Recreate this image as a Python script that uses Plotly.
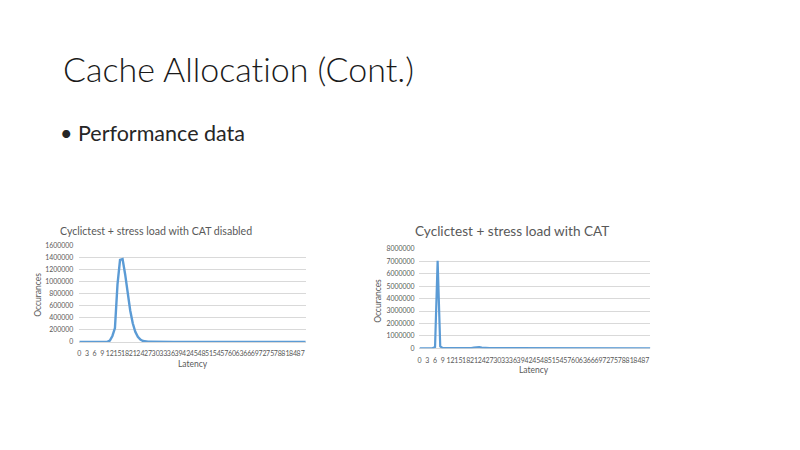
import plotly.graph_objects as go

# latency buckets (0..89) shown on both charts
latency = list(range(90))
tick_vals = [0, 3, 6, 9, 12, 15, 18, 21, 24, 27, 30, 33, 36, 39, 42, 45,
             48, 51, 54, 57, 60, 63, 66, 69, 72, 75, 78, 81, 84, 87]
tick_text = [str(v) for v in tick_vals]

# occurrences, CAT disabled
occ_disabled = [
    0, 0, 0, 0, 0, 0, 0, 0, 0, 0,
    1000, 4000, 25000, 100000, 230000, 950000, 1355000, 1370000, 1120000, 800000,
    520000, 310000, 170000, 85000, 40000, 18000, 8000, 5000, 4000, 5000,
    7000, 9000, 10000, 10000, 9000, 7000, 5000, 3000, 2000, 1500,
    1000, 1000, 800, 800, 600, 600, 500, 500, 400, 400,
    300, 300, 300, 200, 200, 200, 200, 100, 100, 100,
    100, 100, 100, 0, 0, 0, 0, 0, 0, 0,
    0, 0, 0, 0, 0, 0, 0, 0, 0, 0,
    0, 0, 0, 0, 0, 0, 0, 0, 0, 0,
]

# occurrences, CAT enabled
occ_cat = [
    0, 0, 0, 0, 0, 0, 100000, 7050000, 150000, 5000,
    3000, 2000, 2000, 2000, 2000, 2000, 3000, 4000, 5000, 8000,
    20000, 60000, 110000, 100000, 50000, 20000, 10000, 5000, 3000, 2000,
    1000, 1000, 1000, 1000, 1000, 1000, 500, 500, 500, 500,
    0, 0, 0, 0, 0, 0, 0, 0, 0, 0,
    0, 0, 0, 0, 0, 0, 0, 0, 0, 0,
    0, 0, 0, 0, 0, 0, 0, 0, 0, 0,
    0, 0, 0, 0, 0, 0, 0, 0, 0, 0,
    0, 0, 0, 0, 0, 0, 0, 0, 0, 0,
]

FONT = "Lato"
GRAY = "#595959"
GRID = "#D9D9D9"
BLUE = "#5B9BD5"

W, H = 800, 450
OFF = 8  # page body margin


def px(x):
    return (x - OFF) / W


def py(y):
    return 1 - (y - OFF) / H


fig = go.Figure()
fig.add_trace(go.Scatter(x=latency, y=occ_disabled, mode="lines",
                         line=dict(color=BLUE, width=2.4),
                         xaxis="x", yaxis="y", showlegend=False))
fig.add_trace(go.Scatter(x=latency, y=occ_cat, mode="lines",
                         line=dict(color=BLUE, width=2.2),
                         xaxis="x2", yaxis="y2", showlegend=False))

xcommon = dict(range=[0, 89], tickmode="array", tickvals=tick_vals, ticktext=tick_text,
               tickangle=0, showgrid=False, showline=False, zeroline=False, ticks="",
               tickfont=dict(family=FONT, size=7, color=GRAY))
ycommon = dict(showgrid=True, gridcolor=GRID, gridwidth=0.8, showline=False,
               zeroline=True, zerolinecolor=GRID, zerolinewidth=0.8, ticks="",
               tickformat="d", tickfont=dict(family=FONT, size=6.9, color=GRAY))

fig.update_layout(
    width=W, height=H, autosize=False,
    margin=dict(l=0, r=0, t=0, b=0),
    paper_bgcolor="white", plot_bgcolor="white",
    xaxis=dict(domain=[px(77.5), px(304.5)], anchor="y", ticklabelstandoff=6, **xcommon),
    yaxis=dict(domain=[py(343), py(244.3)], anchor="x", range=[0, 1600000],
               dtick=200000, ticklabelstandoff=5, **ycommon),
    xaxis2=dict(domain=[px(418.5), px(650)], anchor="y2", ticklabelstandoff=7, **xcommon),
    yaxis2=dict(domain=[py(349.3), py(248.3)], anchor="x2", range=[0, 8000000],
                dtick=1000000, ticklabelstandoff=4, **ycommon),
)


def note(text, x, y, size, color=GRAY, xanchor="center", angle=0, weight=400):
    fig.add_annotation(text=text, x=px(x), y=py(y), xref="paper", yref="paper",
                       showarrow=False, xanchor=xanchor, yanchor="middle", textangle=angle,
                       font=dict(family=FONT, size=size, color=color, weight=weight))


# slide text (ZWNJ keeps Lato from drawing its "ti" ligature)
note("Cache Allocat\u200cion (Cont.)", 59, 64, 34, color="#1a1a1a", xanchor="left", weight=300)
note("\u2022 Performance data", 56, 130, 21.5, color="#262626", xanchor="left")

# chart titles and axis titles
note("Cyclictest + stress load with CAT disabled", 154, 230, 10.6)
note("Occurances", 36, 295, 8.5, angle=-90)
note("Latency", 191, 365, 8.5)

note("Cyclictest + stress load with CAT", 511, 230, 13.6)
note("Occurances", 377, 301, 8.5, angle=-90)
note("Latency", 533, 371, 8.5)

fig.write_html("out.html")
